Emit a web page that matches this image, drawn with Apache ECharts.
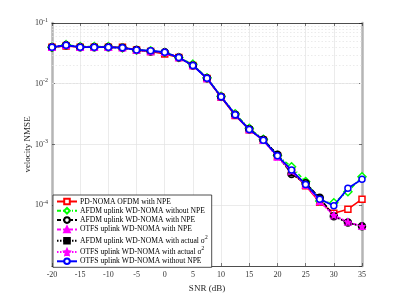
<!DOCTYPE html>
<html><head><meta charset="utf-8">
<script src="https://cdn.jsdelivr.net/npm/echarts@6/dist/echarts.min.js"></script>
<style>html,body{margin:0;padding:0;background:#fff}#c{width:400px;height:300px}</style>
</head><body><div id="c"></div>
<script>
const snr = [-20,-17.5,-15,-12.5,-10,-7.5,-5,-2.5,0,2.5,5,7.5,10,12.5,15,17.5,20,22.5,25,27.5,30,32.5,35];
const pdNomaNpe   = [0.040,0.042,0.040,0.040,0.040,0.040,0.036,0.034,0.031,0.027,0.020,0.0122,0.0060,0.0030,0.00175,0.00118,0.00064,0.00036,0.00021,0.000112,0.000074,0.000086,0.000126];
const afdmNoNpe   = [0.040,0.044,0.041,0.041,0.041,0.039,0.036,0.035,0.033,0.027,0.021,0.0125,0.0062,0.0032,0.00185,0.00122,0.00066,0.00043,0.000245,0.000118,0.000110,0.000167,0.000295];
const afdmNpe     = [0.040,0.043,0.040,0.040,0.040,0.039,0.036,0.034,0.033,0.027,0.020,0.0123,0.0061,0.0031,0.00178,0.00120,0.00068,0.000327,0.00023,0.000133,0.000066,0.000052,0.000045];
const otfsNpe     = [0.040,0.043,0.040,0.040,0.040,0.039,0.036,0.034,0.033,0.027,0.020,0.0122,0.0061,0.0031,0.00176,0.00117,0.00062,0.00036,0.000215,0.000115,0.000068,0.000053,0.000045];
const afdmActual  = [0.040,0.043,0.040,0.040,0.040,0.039,0.036,0.034,0.033,0.027,0.020,0.0123,0.0061,0.0031,0.00178,0.00120,0.00068,0.00033,0.00023,0.000133,0.000066,0.000052,0.000045];
const otfsActual  = [0.040,0.043,0.040,0.040,0.040,0.039,0.036,0.034,0.033,0.027,0.020,0.0122,0.0061,0.0031,0.00176,0.00117,0.00062,0.00036,0.000215,0.000115,0.000068,0.000053,0.000045];
const otfsNoNpe   = [0.040,0.043,0.040,0.040,0.040,0.039,0.036,0.035,0.033,0.027,0.020,0.0123,0.0061,0.0031,0.00176,0.00118,0.00065,0.00038,0.00022,0.000126,0.000098,0.00019,0.000267];
const seriesNames = ['PD-NOMA OFDM with NPE','AFDM uplink WD-NOMA without NPE','AFDM uplink WD-NOMA with NPE','OTFS uplink WD-NOMA with NPE','AFDM uplink WD-NOMA with actual σ{sup|2}','OTFS uplink WD-NOMA with actual σ{sup|2}','OTFS uplink WD-NOMA without NPE'];
const xTicks = [-20,-15,-10,-5,0,5,10,15,20,25,30,35];
const yDecades = [1e-5,1e-4,1e-3,1e-2,1e-1];
const yLabelExps = [-4,-3,-2,-1];

const minorVals = [];
for (let d = 0; d < yDecades.length - 1; d++) for (let k = 2; k <= 9; k++) minorVals.push(yDecades[d] * k);

const serif = 'Liberation Serif';
const star = 'path://M0,-10 L2.9,-4 L9.5,-3.1 L4.7,1.5 L5.9,8.1 L0,5 L-5.9,8.1 L-4.7,1.5 L-9.5,-3.1 L-2.9,-4 Z';
function mk(name, data, color, lineType, symbol, size, width, filled, z) {
  return {
    name, type: 'line', data: snr.map((x, i) => [x, data[i]]),
    symbol, symbolSize: size, showAllSymbol: true, z,
    lineStyle: { color, width, type: lineType },
    itemStyle: { color: filled ? color : '#fff', borderColor: color, borderWidth: 1.5 },
    color
  };
}
const series = [
  mk(seriesNames[0], pdNomaNpe, '#ff0000', 'solid', 'rect', 6, 1.5, false, 2),
  mk(seriesNames[1], afdmNoNpe, '#00ff00', [4, 2, 1, 2], 'diamond', 8, 1.5, false, 3),
  mk(seriesNames[2], afdmNpe, '#000000', [4, 2], 'circle', 7, 1.6, false, 4),
  mk(seriesNames[3], otfsNpe, '#ff00ff', [4, 2], 'triangle', 6, 1.5, true, 5),
  mk(seriesNames[4], afdmActual, '#000000', [1.5, 1.5], 'rect', 4, 1.5, true, 6),
  mk(seriesNames[5], otfsActual, '#ff00ff', [1.5, 1.5], star, 5, 1.5, true, 7),
  mk(seriesNames[6], otfsNoNpe, '#0000ff', 'solid', 'circle', 6, 1.8, false, 8)
];
series[0].markLine = {
  silent: true, symbol: 'none', label: { show: false }, animation: false, z: 1,
  lineStyle: { type: [1.5, 2], color: '#e2e2e2', width: 0.7 },
  data: minorVals.map(v => ({ yAxis: v }))
};

const chart = echarts.init(document.getElementById('c'), null, { renderer: 'canvas' });
chart.setOption({
  animation: false,
  backgroundColor: '#fff',
  grid: { left: 52, right: 38, top: 23, bottom: 34 },
  legend: {
    data: seriesNames, orient: 'vertical', left: 53, top: 195,
    itemWidth: 20, itemHeight: 7, itemGap: 1.3, padding: [2.5, 4, 2, 3],
    backgroundColor: '#fff', borderColor: '#222', borderWidth: 0.8, borderRadius: 0,
    textStyle: { fontFamily: serif, fontSize: 7.6, lineHeight: 8, color: '#000', padding: [0, 0, 0, -2],
      rich: { sup: { fontSize: 5.5, lineHeight: 8, verticalAlign: 'bottom', padding: [0, 0, 4, 0], fontFamily: serif, color: '#000' } } }
  },
  xAxis: [{
    type: 'value', min: -20, max: 35, interval: 5,
    name: 'SNR (dB)', nameLocation: 'middle', nameGap: 16,
    nameTextStyle: { fontFamily: serif, fontSize: 9, color: '#262626' },
    axisLine: { show: true, onZero: false, lineStyle: { color: '#262626', width: 0.8 } },
    axisTick: { show: true, inside: true, length: 3, lineStyle: { color: '#262626', width: 0.6 } },
    axisLabel: { fontFamily: serif, fontSize: 8, color: '#333', margin: 5,
      formatter: v => xTicks.includes(v) ? String(v) : '' },
    splitLine: { show: true, lineStyle: { color: '#e3e3e3', width: 0.7 } }
  }, {
    type: 'value', min: -20, max: 35, interval: 5, position: 'top',
    axisLine: { show: true, onZero: false, lineStyle: { color: '#262626', width: 0.8 } },
    axisTick: { show: true, inside: true, length: 3, lineStyle: { color: '#262626', width: 0.6 } },
    axisLabel: { show: false }, splitLine: { show: false }
  }],
  yAxis: [{
    type: 'log', logBase: 10, min: 1e-5, max: 1e-1,
    name: 'velocity NMSE', nameLocation: 'middle', nameGap: 20, nameMoveOverlap: false,
    nameTextStyle: { fontFamily: serif, fontSize: 9, color: '#262626' },
    axisLine: { show: true, onZero: false, lineStyle: { color: '#b5b5b5', width: 2.5 } },
    axisTick: { show: true, inside: true, length: 3, lineStyle: { color: '#262626', width: 0.6 } },
    axisLabel: {
      fontFamily: serif, fontSize: 8, color: '#333', margin: 4,
      formatter: v => { const e = Math.round(Math.log10(v)); return yLabelExps.includes(e) ? '10{sup|' + e + '}' : ''; },
      rich: { sup: { fontSize: 6, verticalAlign: 'bottom', padding: [0, 0, 6, 0], fontFamily: serif, color: '#333' } }
    },
    splitLine: { show: true, lineStyle: { color: '#e3e3e3', width: 0.7 } }
  }, {
    type: 'log', logBase: 10, min: 1e-5, max: 1e-1, position: 'right',
    axisLine: { show: true, onZero: false, lineStyle: { color: '#b5b5b5', width: 2.5 } },
    axisTick: { show: true, inside: true, length: 3, lineStyle: { color: '#262626', width: 0.6 } },
    axisLabel: { show: false }, splitLine: { show: false }
  }],
  series
});
</script></body></html>
